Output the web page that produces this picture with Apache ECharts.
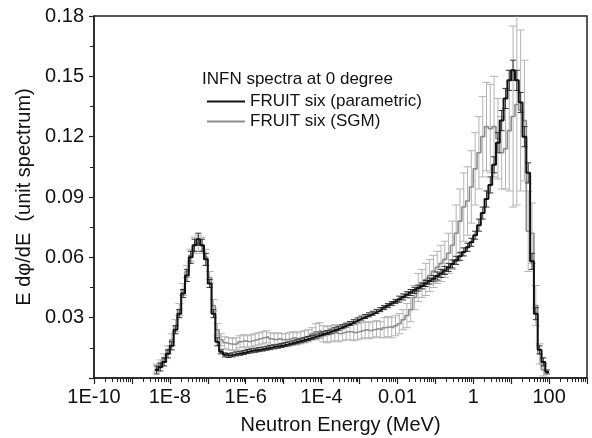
<!DOCTYPE html>
<html>
<head>
<meta charset="utf-8">
<script src="https://cdn.jsdelivr.net/npm/echarts@6/dist/echarts.min.js"></script>
<style>
  html, body { margin: 0; padding: 0; background: #fff; }
  #main { width: 592px; height: 438px; }
</style>
</head>
<body>
<div id="main"></div>
<script>
'use strict';

// energy bins: log10(E/MeV), lower edge of first bin and bin width (10 per decade)
var binStart = -8.4;
var binStep = 0.1;

// FRUIT six (parametric), E dphi/dE per bin
var paramValues = [
  0.004,0.0055,0.008,0.012,0.016,0.024,0.032,0.042,0.051,0.060,0.066,0.069,0.066,0.059,0.047,0.032,0.018,0.013,0.0115,0.0112,0.0115,0.012,0.0123,0.0127,
  0.0132,0.0135,0.0138,0.0141,0.0144,0.0148,0.0151,0.0155,0.0158,0.0162,
  0.0166,0.0170,0.0175,0.0180,0.0185,0.0190,0.0196,0.0202,0.0208,0.0214,
  0.0220,0.0226,0.0233,0.0240,0.0247,0.0255,0.0263,0.0271,0.0280,0.0289,
  0.0298,0.0306,0.0314,0.0322,0.0331,0.0340,0.0350,0.0360,0.0370,0.0381,
  0.0392,0.0403,0.0414,0.0425,0.0436,0.0447,0.0458,0.0470,0.0482,0.0494,
  0.0507,0.0520,0.0535,0.0550,0.0567,0.0585,0.0605,0.0627,0.0650,0.0675,
  0.0710,0.076,0.082,0.089,0.096,0.106,0.117,0.128,0.139,0.148,0.153,0.148,0.137,0.120,0.102,0.058,0.032,0.014,0.008,0.003
];
var paramErrors = [
  0.002,0.002,0.002,0.002,0.002,0.002,0.002,0.002,0.003,0.003,0.003,0.003,0.003,0.003,0.002,0.002,0.002,0.001,0.001,0.001,0.001,0.001,0.001,0.001,
  0.001,0.001,0.001,0.001,0.001,0.001,0.001,0.001,0.001,0.001,
  0.001,0.001,0.001,0.001,0.001,0.001,0.001,0.001,0.001,0.001,
  0.001,0.001,0.001,0.001,0.001,0.001,0.001,0.001,0.001,0.001,
  0.001,0.001,0.001,0.001,0.001,0.001,0.001,0.001,0.001,0.001,
  0.0015,0.0015,0.0015,0.0015,0.0015,0.0015,0.0015,0.0015,0.0015,0.0015,
  0.002,0.002,0.002,0.002,0.002,0.002,0.002,0.002,0.002,0.002,
  0.002,0.003,0.003,0.004,0.004,0.004,0.005,0.005,0.005,0.005,0.005,0.005,0.005,0.005,0.005,0.004,0.003,0.002,0.002,0.001
];

// FRUIT six (SGM)
var sgmValues = [
  0.005,0.007,0.010,0.014,0.019,0.026,0.034,0.044,0.053,0.061,0.066,0.067,0.066,0.060,0.050,0.036,0.024,0.019,0.0175,0.017,0.0168,0.017,0.018,0.0185,
  0.018,0.0185,0.019,0.0195,0.020,0.0205,0.0195,0.019,0.0195,0.019,
  0.019,0.0195,0.020,0.0195,0.020,0.0205,0.021,0.022,0.023,0.0235,
  0.022,0.0215,0.022,0.0225,0.022,0.0225,0.023,0.023,0.0225,0.023,
  0.0235,0.024,0.0235,0.024,0.0245,0.024,0.025,0.0255,0.025,0.026,
  0.027,0.029,0.031,0.034,0.040,0.045,0.047,0.049,0.051,0.053,
  0.055,0.057,0.059,0.062,0.066,0.072,0.078,0.085,0.088,0.095,
  0.104,0.112,0.120,0.125,0.124,0.125,0.119,0.112,0.114,0.123,0.130,0.136,0.133,0.128,0.073,0.072,0.036,0.012,0.004
];
var sgmErrors = [
  0.002,0.002,0.002,0.002,0.003,0.003,0.003,0.003,0.003,0.003,0.004,0.004,0.004,0.004,0.003,0.003,0.003,0.003,0.003,0.003,0.003,0.003,0.003,0.003,
  0.003,0.003,0.003,0.003,0.003,0.003,0.003,0.003,0.003,0.003,
  0.003,0.003,0.003,0.003,0.003,0.003,0.003,0.003,0.004,0.004,
  0.004,0.004,0.004,0.004,0.004,0.004,0.004,0.004,0.004,0.004,
  0.004,0.004,0.004,0.004,0.004,0.004,0.005,0.005,0.005,0.005,
  0.005,0.005,0.006,0.006,0.006,0.007,0.007,0.008,0.008,0.008,
  0.008,0.009,0.009,0.010,0.012,0.014,0.016,0.017,0.017,0.018,
  0.018,0.018,0.020,0.022,0.022,0.025,0.020,0.018,0.020,0.030,0.045,0.050,0.040,0.030,0.020,0.015,0.010,0.005,0.003
];

// tick labels of the energy axis (decade exponents)
var xTickExps = [-10, -8, -6, -4, -2, 0, 2];
var xTickLabels = ['1E-10', '1E-8', '1E-6', '1E-4', '0.01', '1', '100'];

var legendTitle = 'INFN spectra at 0 degree';
var seriesNames = ['FRUIT six (parametric)', 'FRUIT six (SGM)'];

function stepPoints(vals){
  var pts = [];
  for (var i = 0; i < vals.length; i++) {
    var lo = binStart + i * binStep;
    pts.push([lo, vals[i]]);
    pts.push([lo + binStep, vals[i]]);
  }
  return pts;
}

function errPoints(vals, errs){
  var pts = [];
  for (var i = 0; i < vals.length; i++) {
    var c = binStart + (i + 0.5) * binStep;
    pts.push([c, vals[i] - errs[i], vals[i] + errs[i]]);
  }
  return pts;
}

function errRender(color, capW){
  return function(params, api){
    var p1 = api.coord([api.value(0), api.value(1)]);
    var p2 = api.coord([api.value(0), api.value(2)]);
    var st = { stroke: color, lineWidth: 1 };
    return {
      type: 'group',
      children: [
        { type: 'line', shape: { x1: p1[0], y1: p1[1], x2: p2[0], y2: p2[1] }, style: st },
        { type: 'line', shape: { x1: p1[0] - capW, y1: p1[1], x2: p1[0] + capW, y2: p1[1] }, style: st },
        { type: 'line', shape: { x1: p2[0] - capW, y1: p2[1], x2: p2[0] + capW, y2: p2[1] }, style: st }
      ]
    };
  };
}

// decade ticks and log minor ticks (2..9 in each decade)
var majorTicks = [];
var minorTicks = [];
for (var n = -10; n <= 3; n++) {
  majorTicks.push(n);
  if (n < 3) {
    for (var k = 2; k <= 9; k++) minorTicks.push(n + Math.log10(k));
  }
}

var font = 'Liberation Sans, Arial, sans-serif';
var chart = echarts.init(document.getElementById('main'));

var option = {
  animation: false,
  backgroundColor: '#fff',
  grid: {
    left: 94, right: 5, top: 16, bottom: 60,
    outerBoundsMode: 'none', containLabel: false,
    show: true, borderColor: '#222', borderWidth: 1.5
  },
  xAxis: [{
    type: 'value', min: -10, max: 3,
    name: 'Neutron Energy (MeV)', nameLocation: 'middle', nameGap: 37,
    nameTextStyle: { fontFamily: font, fontSize: 20, color: '#111' },
    axisLine: { show: true, onZero: false, lineStyle: { color: '#222', width: 1.5 } },
    axisTick: { show: true, inside: false, length: 6, customValues: majorTicks, lineStyle: { color: '#222', width: 1.2 } },
    axisLabel: {
      customValues: xTickExps, margin: 9, fontFamily: font, fontSize: 20, color: '#111',
      formatter: function(v){ var i = xTickExps.indexOf(Math.round(v)); return i >= 0 ? xTickLabels[i] : ''; }
    },
    splitLine: { show: false }
  }, {
    type: 'value', min: -10, max: 3, position: 'bottom',
    axisLine: { show: false, onZero: false },
    axisTick: { show: true, inside: false, length: 4, customValues: minorTicks, lineStyle: { color: '#222', width: 1 } },
    axisLabel: { show: false },
    splitLine: { show: false }
  }],
  yAxis: {
    type: 'value', min: 0, max: 0.18, interval: 0.03,
    name: 'E d\u03c6/dE  (unit spectrum)', nameLocation: 'middle', nameGap: 59,
    nameTextStyle: { fontFamily: font, fontSize: 20, color: '#111' },
    axisLine: { show: true, onZero: false, lineStyle: { color: '#222', width: 1.5 } },
    axisTick: { show: true, inside: false, length: 5, lineStyle: { color: '#222', width: 1.2 } },
    minorTick: { show: true, splitNumber: 2, length: 4, lineStyle: { color: '#222', width: 1 } },
    axisLabel: {
      margin: 10, fontFamily: font, fontSize: 20, color: '#111',
      formatter: function(v){ return v === 0 ? '' : v.toFixed(2); }
    },
    splitLine: { show: false }
  },
  legend: {
    left: 202, top: 88, orient: 'vertical', itemGap: 3,
    itemWidth: 38, itemHeight: 2, icon: 'rect',
    textStyle: { fontFamily: font, fontSize: 17, color: '#111' },
    data: seriesNames
  },
  graphic: [{
    type: 'text', left: 202, top: 71,
    style: { text: legendTitle, font: '17px ' + font, fill: '#111' }
  }],
  series: [{
    name: seriesNames[1] + ' err', type: 'custom', clip: true,
    renderItem: errRender('#b3b3b3', 4), data: errPoints(sgmValues, sgmErrors), z: 1
  }, {
    name: seriesNames[1], type: 'line', showSymbol: false, symbol: 'none',
    data: stepPoints(sgmValues), itemStyle: { color: '#8c8c8c' },
    lineStyle: { color: '#8c8c8c', width: 1.6 }, z: 2
  }, {
    name: seriesNames[0] + ' err', type: 'custom', clip: true,
    renderItem: errRender('#333', 3), data: errPoints(paramValues, paramErrors), z: 3
  }, {
    name: seriesNames[0], type: 'line', showSymbol: false, symbol: 'none',
    data: stepPoints(paramValues), itemStyle: { color: '#111' },
    lineStyle: { color: '#111', width: 2 }, z: 4
  }]
};
chart.setOption(option);
</script>
</body>
</html>
